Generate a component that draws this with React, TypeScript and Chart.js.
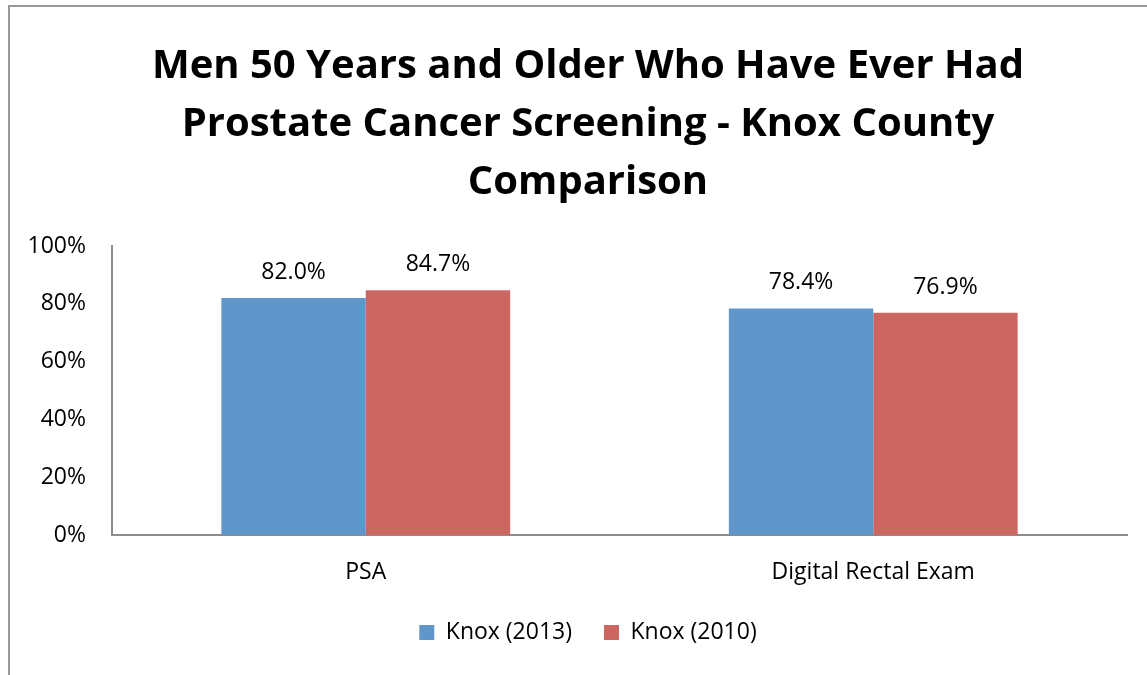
import React, { useEffect, useRef } from "react";
import { Chart, registerables } from "chart.js";

Chart.register(...registerables);

const categories = ["PSA", "Digital Rectal Exam"];
const seriesNames = ["Knox (2013)", "Knox (2010)"];
const knox2013 = [82.0, 78.4];
const knox2010 = [84.7, 76.9];
const yTicks = [0, 20, 40, 60, 80, 100];
const titleLines = [
  "Men 50 Years and Older Who Have Ever Had",
  "Prostate Cancer Screening - Knox County",
  "Comparison",
];

const FONT = "'Open Sans', 'Noto Sans', sans-serif";

const dataLabels = {
  id: "dataLabels",
  afterDatasetsDraw(chart: any) {
    const ctx = chart.ctx;
    ctx.save();
    ctx.font = `23px ${FONT}`;
    ctx.fillStyle = "#000";
    ctx.textAlign = "center";
    ctx.textBaseline = "alphabetic";
    chart.data.datasets.forEach((ds: any, di: number) => {
      const meta = chart.getDatasetMeta(di);
      meta.data.forEach((el: any, i: number) => {
        const v = ds.data[i] as number;
        ctx.fillText(v.toFixed(1) + "%", el.x, el.y - 19);
      });
    });
    ctx.restore();
  },
};

export default function App() {
  const ref = useRef<HTMLCanvasElement>(null);
  useEffect(() => {
    if (!ref.current) return;
    const chart = new Chart(ref.current, {
      type: "bar",
      data: {
        labels: categories,
        datasets: [
          { label: seriesNames[0], data: knox2013, backgroundColor: "#6096C9" },
          { label: seriesNames[1], data: knox2010, backgroundColor: "#CC6660" },
        ],
      },
      options: {
        responsive: false,
        animation: false,
        devicePixelRatio: 1,
        layout: { padding: { left: 39, right: 43, top: 0, bottom: 26 } },
        datasets: {
          bar: { categoryPercentage: 0.569, barPercentage: 1 },
        } as any,
        scales: {
          x: {
            grid: { display: false, drawTicks: false },
            border: { display: true, color: "#8c8c8c", width: 2 },
            ticks: { color: "#000", font: { family: FONT, size: 23 }, padding: 24 },
            afterFit: (s: any) => { s.height = 54; },
          },
          y: {
            min: 0,
            max: 100,
            afterBuildTicks: (s: any) => { s.ticks = yTicks.map((v) => ({ value: v })); },
            grid: { display: false, drawTicks: false },
            border: { display: true, color: "#8c8c8c", width: 2 },
            ticks: {
              color: "#000",
              font: { family: FONT, size: 23 },
              padding: 26,
              callback: (v: any) => v + "%",
            },
            afterFit: (s: any) => {
              s.width = 63;
              s._computeLabelArea = () => undefined;
            },
          },
        },
        plugins: {
          title: {
            display: true,
            text: titleLines,
            color: "#000",
            font: { family: FONT, size: 40, weight: "bold", lineHeight: 1.45 },
            padding: { top: 31, bottom: 34 },
          },
          legend: {
            position: "bottom",
            labels: {
              color: "#000",
              font: { family: FONT, size: 23 },
              boxWidth: 15,
              boxHeight: 15,
              padding: 32,
            },
          },
          tooltip: { enabled: false },
        },
      },
      plugins: [dataLabels],
    });
    return () => chart.destroy();
  }, []);
  return (
    <div
      style={{
        position: "absolute",
        left: 8,
        top: 5,
        width: 1200,
        height: 720,
        borderLeft: "2px solid #999",
        borderTop: "2px solid #999",
        background: "#fff",
      }}
    >
      <canvas ref={ref} width={1160} height={673} style={{ display: "block" }} />
    </div>
  );
}
